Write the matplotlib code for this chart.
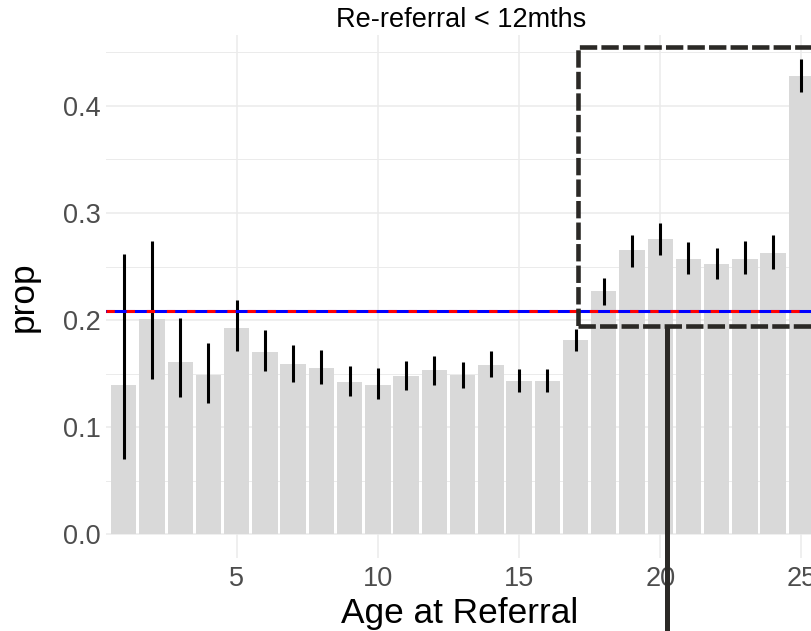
import numpy as np
import matplotlib.pyplot as plt
from matplotlib.patches import Rectangle

plt.rcParams['font.family'] = ['Liberation Sans', 'DejaVu Sans']
plt.rcParams['lines.scale_dashes'] = False

# Proportion re-referred within 12 months, by age at referral
age = list(range(1, 26))
prop = [0.139, 0.201, 0.161, 0.149, 0.193, 0.170, 0.159, 0.155, 0.142, 0.139,
        0.148, 0.153, 0.149, 0.158, 0.143, 0.143, 0.181, 0.227, 0.265, 0.276,
        0.257, 0.252, 0.257, 0.263, 0.428]
lower = [0.070, 0.145, 0.128, 0.123, 0.171, 0.152, 0.142, 0.140, 0.129, 0.126,
         0.135, 0.139, 0.137, 0.147, 0.133, 0.133, 0.171, 0.214, 0.250, 0.261,
         0.243, 0.238, 0.243, 0.248, 0.413]
upper = [0.262, 0.274, 0.202, 0.179, 0.219, 0.191, 0.177, 0.172, 0.157, 0.155,
         0.162, 0.166, 0.161, 0.171, 0.154, 0.154, 0.192, 0.239, 0.279, 0.291,
         0.273, 0.267, 0.274, 0.279, 0.444]
overall = 0.208

# highlight box (data units) and connector line
box_x0 = 17.08
box_y0 = 0.1948
box_y1 = 0.4553
link_x = 20.25
ink = '#2B2926'

fig = plt.figure(figsize=(8.11, 6.31), dpi=100)
ax = fig.add_axes([106 / 811, 1 - 558 / 631, 1 - 106 / 811, 523 / 631])

ax.set_xlim(0.37, 25.34)
ax.set_ylim(-0.0222, 0.4662)
ax.set_xticks([5, 10, 15, 20, 25])
ax.set_yticks([0.0, 0.1, 0.2, 0.3, 0.4])
ax.set_yticklabels(['0.0', '0.1', '0.2', '0.3', '0.4'])
ax.set_yticks([0.05, 0.15, 0.25, 0.35, 0.45], minor=True)
ax.set_xticks([], minor=True)
ax.grid(which='major', color='#EBEBEB', lw=1.1)
ax.grid(which='minor', axis='y', color='#EBEBEB', lw=0.7)
ax.set_axisbelow(True)
for s in ax.spines.values():
    s.set_visible(False)
ax.tick_params(which='both', length=0, labelsize=19.5, labelcolor='#4D4D4D')
ax.tick_params(axis='x', pad=6)
ax.tick_params(axis='y', pad=4)

ax.bar(age, prop, width=0.9, color='#D9D9D9', zorder=2)
ax.vlines(age, lower, upper, color='black', lw=2.2, zorder=3)
ax.axhline(overall, color='blue', lw=2.2, zorder=4)
ax.axhline(overall, color='red', lw=2.2, ls=(0, (6, 8.5)), zorder=4)

rect = Rectangle((box_x0, box_y0), 20, box_y1 - box_y0, fill=False,
                 ec=ink, lw=3.3, ls=(0, (12.5, 3)), zorder=5)
ax.add_patch(rect)
ax.plot([link_x, link_x], [box_y0, -0.3], color=ink, lw=3.6,
        clip_on=False, zorder=5, solid_capstyle='butt')

fig.text(461 / 811, 1 - 27 / 631, 'Re-referral < 12mths', ha='center',
         va='baseline', fontsize=19.5)
fig.text(460 / 811, 1 - 623 / 631, 'Age at Referral', ha='center',
         va='baseline', fontsize=25.4)
fig.text(33 / 811, 1 - 297 / 631, 'prop', rotation=90, rotation_mode='anchor',
         ha='center', va='baseline', fontsize=25.4)

fig.savefig('out.png', dpi=100)
